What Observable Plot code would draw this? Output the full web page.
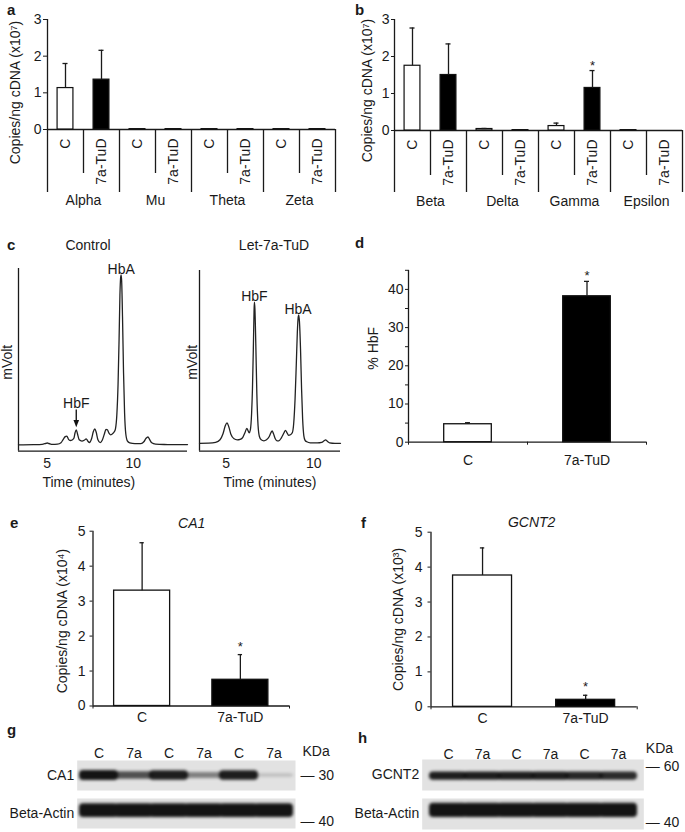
<!DOCTYPE html>
<html><head><meta charset="utf-8">
<script src="https://cdn.jsdelivr.net/npm/d3@7"></script>
<script src="https://cdn.jsdelivr.net/npm/@observablehq/plot@0.6"></script>
<style>
body{margin:0;background:#fff;}
#fig{position:relative;width:685px;height:832px;overflow:hidden;font-family:'Liberation Sans',Arial,Helvetica,sans-serif;color:#1a1a1a;background:#fff;}
.lbl{position:absolute;font-weight:bold;font-size:15px;line-height:1;}
.ttl{position:absolute;font-size:14px;line-height:1;transform:translate(-50%,-50%);white-space:nowrap;}
[aria-label="band"]{filter:blur(1.4px);}
</style></head>
<body><div id="fig"></div>
<script>
// ================= DATA =================
const conditions = ["C", "7a-TuD"];

// Panel a — alpha-like globin genes (copies/ng cDNA, x10^7)
const alphaGenes = ["Alpha", "Mu", "Theta", "Zeta"];
const alphaMeans = [1.13, 1.36, 0.01, 0.01, 0.01, 0.01, 0.01, 0.01];
const alphaErrors = [0.67, 0.80, 0, 0, 0, 0, 0, 0];
const alphaSig = [false, false, false, false, false, false, false, false];

// Panel b — beta-like globin genes
const betaGenes = ["Beta", "Delta", "Gamma", "Epsilon"];
const betaMeans = [1.75, 1.50, 0.04, 0.01, 0.12, 1.15, 0.01, 0];
const betaErrors = [1.02, 0.84, 0.015, 0, 0.08, 0.47, 0, 0];
const betaSig = [false, false, false, false, false, true, false, false];

// Panel c — HPLC chromatograms [time (min), signal (mV, arbitrary)]
const controlTrace = [
  [3.33,0],[4.2,0.2],[4.7,0.5],[4.9,1.3],[5.0,1.8],[5.1,1.3],[5.3,0.4],[5.6,0.6],[5.8,2],[5.95,6],
  [6.05,8.2],[6.14,8.7],[6.24,5.5],[6.34,4.3],[6.45,4.8],[6.55,6.5],[6.62,12],[6.69,15],[6.76,11],[6.86,5],
  [7.02,3.7],[7.15,4.5],[7.27,6],[7.37,3.5],[7.46,2.3],[7.58,6],[7.68,13],[7.77,16],[7.85,12.5],[7.95,5],
  [8.08,2.2],[8.2,4.5],[8.32,10.5],[8.42,15.5],[8.5,15],[8.6,11.5],[8.7,10],[8.8,11],[8.9,13],[8.97,16],
  [9.05,30],[9.12,60],[9.18,105],[9.23,150],[9.27,167],[9.3,170],[9.33,164],[9.38,128],[9.44,72],[9.5,32],
  [9.57,11],[9.66,4],[9.8,2],[10.1,1.2],[10.45,1.2],[10.62,3],[10.75,6.5],[10.86,7.8],[10.96,5.2],[11.08,2],
  [11.3,0.7],[11.8,0.3],[12.5,0.2],[13.16,0.2]
];
const let7aTrace = [
  [3.48,0.5],[4.0,0.7],[4.4,1.5],[4.65,4],[4.82,10],[4.95,18],[5.05,21],[5.15,17],[5.27,9.5],[5.45,5],
  [5.63,4],[5.8,4.5],[5.95,6.5],[6.07,11],[6.18,15.5],[6.25,13],[6.31,11],[6.38,14],[6.45,30],[6.5,55],
  [6.55,95],[6.59,132],[6.61,141.7],[6.64,135],[6.69,100],[6.75,50],[6.82,18],[6.9,7],[7.0,4],[7.15,3],
  [7.3,4],[7.45,7],[7.55,11],[7.62,13],[7.7,10],[7.8,5],[7.9,3],[8.0,3],[8.15,6],[8.3,11],
  [8.38,13.5],[8.47,11],[8.56,8.5],[8.66,9],[8.77,11],[8.85,20],[8.93,45],[9.0,80],[9.06,112],[9.11,127],
  [9.14,129],[9.18,122],[9.24,95],[9.3,55],[9.36,25],[9.43,8],[9.5,3.5],[9.6,2],[9.8,1],[10.2,1],
  [10.45,1.5],[10.58,3],[10.67,4],[10.77,2.5],[10.9,1],[11.2,0.5],[11.52,0.5]
];
const controlPeaks = [
  {name: "HbA", time: 9.3, height: 170, arrow: false},
  {name: "HbF", time: 6.69, height: 15, arrow: true}
];
const let7aPeaks = [
  {name: "HbF", time: 6.61, height: 141.7, arrow: false},
  {name: "HbA", time: 9.1, height: 129, arrow: false}
];

// Panel d — % HbF
const hbfMeans = [4.7, 38.2];
const hbfErrors = [0.4, 3.9];
const hbfSig = [false, true];

// Panel e — CA1 (x10^4)
const ca1Means = [3.3, 0.75];
const ca1Errors = [1.37, 0.72];
const ca1Sig = [false, true];

// Panel f — GCNT2 (x10^3)
const gcnt2Means = [3.76, 0.2];
const gcnt2Errors = [0.79, 0.13];
const gcnt2Sig = [false, true];

// Panels g, h — western blots (relative band intensity per lane)
const laneLabels = ["C", "7a", "C", "7a", "C", "7a"];
const blotGRows = ["CA1", "Beta-Actin"];
const blotHRows = ["GCNT2", "Beta-Actin"];
const ca1BandIntensity = [1.0, 0.68, 0.95, 0.42, 0.95, 0.08];
const actinGBandIntensity = [1, 1, 1, 1, 1, 1];
const gcnt2BandIntensity = [0.95, 0.95, 0.95, 0.95, 0.9, 0.88];
const actinHBandIntensity = [1, 1, 1, 1, 1, 1];
const markerKDaG = [30, 40];
const markerKDaH = [60, 40];

// ================= HELPERS =================
const FONT = "'Liberation Sans', Arial, Helvetica, sans-serif";
const baseStyle = {fontFamily: FONT, fontSize: "14px", color: "#1a1a1a", background: "transparent", overflow: "visible"};
const fig = document.getElementById("fig");
function place(el, left, top) {
  el.style.position = "absolute"; el.style.left = left + "px"; el.style.top = top + "px";
  fig.append(el);
}
function addDiv(cls, text, left, top, extra) {
  const d = document.createElement("div");
  d.className = cls; d.textContent = text;
  d.style.left = left + "px"; d.style.top = top + "px";
  if (extra) Object.assign(d.style, extra);
  fig.append(d);
}
const SW = 1.3;
const intFmt = v => String(v);

function groupedPanel(o) {
  const data = o.means.map((m, i) => ({i, cond: conditions[i % 2], mean: m, err: o.errors[i], sig: o.sig[i]}));
  const n = data.length;
  const dividers = d3.range(n + 1).map(k => ({x: k, len: k % 2 === 0 ? o.longPx : o.shortPx}));
  const withErr = data.filter(d => d.err > 0);
  return Plot.plot({
    width: o.width, height: o.height,
    marginLeft: o.mL, marginRight: o.mR, marginTop: o.mT, marginBottom: o.mB,
    style: baseStyle,
    x: {domain: [0, n], axis: null},
    y: {domain: [0, 3], axis: null},
    marks: [
      Plot.ruleY([0], {strokeWidth: SW}),
      Plot.ruleX([0], {strokeWidth: SW}),
      Plot.ruleX(dividers, {x: "x", y1: 0, y2: d => -d.len / o.pxPerUnit, strokeWidth: SW}),
      Plot.axisY({ticks: [0, 1, 2, 3], tickFormat: intFmt, tickSize: o.tickSize, tickPadding: 2, label: null}),
      Plot.rect(data, {x1: d => d.i + 0.28, x2: d => d.i + 0.72, y1: 0, y2: "mean",
        fill: d => d.cond === "C" ? "white" : "black", stroke: "#111", strokeWidth: 1.2}),
      Plot.ruleX(withErr, {x: d => d.i + 0.5, y1: "mean", y2: d => d.mean + d.err, strokeWidth: SW}),
      Plot.ruleY(withErr, {y: d => d.mean + d.err, x1: d => d.i + 0.43, x2: d => d.i + 0.57, strokeWidth: SW}),
      Plot.text(data.filter(d => d.sig), {x: d => d.i + 0.5, y: d => d.mean + d.err, text: () => "*",
        dy: -4.7, lineAnchor: "middle", fontSize: 13}),
      Plot.axisX({ticks: d3.range(n).map(k => k + 0.5), tickFormat: v => conditions[Math.floor(v) % 2],
        tickRotate: -90, tickSize: 0, tickPadding: 9, label: null}),
      Plot.axisX({ticks: o.groups.map((g, k) => 2 * k + 1), tickFormat: v => o.groups[(v - 1) / 2],
        tickSize: 0, tickPadding: 66, label: null}),
      Plot.text([o.ylabel], {text: d => d, frameAnchor: "left", rotate: -90, dx: o.labelDx, dy: o.labelDy,
        textAnchor: "middle", lineAnchor: "middle"})
    ]
  });
}

function twoBar(o) {
  const data = o.means.map((m, i) => ({i, cond: conditions[i], mean: m, err: o.errors[i], sig: o.sig[i]}));
  return Plot.plot({
    width: o.width, height: o.height,
    marginLeft: o.mL, marginRight: o.mR, marginTop: o.mT, marginBottom: o.mB,
    style: baseStyle,
    x: {domain: [0, 2], axis: null},
    y: {domain: o.yDomain, axis: null},
    marks: [
      Plot.ruleX([0], {strokeWidth: SW}),
      Plot.ruleY([0], {strokeWidth: SW}),
      Plot.axisY({ticks: o.yTicks, tickFormat: o.yFormat, tickSize: 3, tickPadding: o.tickPad, label: null}),
      Plot.axisX({ticks: o.xTicks, tickSize: 3, tickFormat: () => "", label: null}),
      Plot.axisX({ticks: [0.5, 1.5], tickSize: 0, tickPadding: o.xPad, tickFormat: v => conditions[Math.floor(v)], label: null}),
      Plot.rect(data, {x1: d => d.i + 0.5 - o.half, x2: d => d.i + 0.5 + o.half, y1: 0, y2: "mean",
        fill: d => d.i === 0 ? "white" : "black", stroke: "#111", strokeWidth: SW}),
      Plot.ruleX(data, {x: d => d.i + 0.5, y1: "mean", y2: d => d.mean + d.err, strokeWidth: SW}),
      Plot.ruleY(data, {y: d => d.mean + d.err, x1: d => d.i + 0.5 - o.cap, x2: d => d.i + 0.5 + o.cap, strokeWidth: SW}),
      Plot.text(data.filter(d => d.sig), {x: d => d.i + 0.5, y: d => d.mean + d.err, text: () => "*",
        dy: o.starDy, lineAnchor: "middle", fontSize: 13}),
      Plot.text([o.ylabel], {text: d => d, frameAnchor: "left", rotate: -90, dx: o.labelDx, dy: o.labelDy,
        textAnchor: "middle", lineAnchor: "middle"})
    ]
  });
}

const downTriangle = {draw(ctx, size) {
  const r = Math.sqrt(size / Math.PI);
  ctx.moveTo(-r * 0.8, -r); ctx.lineTo(r * 0.8, -r); ctx.lineTo(0, r * 1.1); ctx.closePath();
}};

function chrom(o) {
  const pts = o.trace.map(([t, v]) => ({t, v}));
  const labels = o.peaks.filter(p => !p.arrow);
  const arrows = o.peaks.filter(p => p.arrow);
  return Plot.plot({
    width: o.width, height: o.height,
    marginLeft: o.mL, marginRight: o.mR, marginTop: o.mT, marginBottom: o.mB,
    style: baseStyle,
    x: {domain: o.xDomain, axis: null},
    y: {domain: o.yDomain, axis: null},
    marks: [
      Plot.ruleX([o.xDomain[0]], {strokeWidth: SW}),
      Plot.ruleY([o.yDomain[0]], {strokeWidth: SW}),
      Plot.axisX({ticks: [5, 10], tickFormat: intFmt, tickSize: 0, tickPadding: 7, label: null}),
      Plot.line(pts, {x: "t", y: "v", curve: "monotone-x", stroke: "#222", strokeWidth: 1.3}),
      Plot.text(labels, {x: "time", y: "height", text: "name", lineAnchor: "bottom", dy: -1}),
      Plot.link(arrows, {x1: "time", x2: "time", y1: d => d.height + 20.3, y2: d => d.height + 8, strokeWidth: 1.4}),
      Plot.dot(arrows, {x: "time", y: d => d.height + 6.4, r: 3.5, symbol: downTriangle, fill: "#111", stroke: "none"}),
      Plot.text(arrows, {x: "time", y: d => d.height + 20.3, text: "name", lineAnchor: "bottom", dy: -2}),
      Plot.text(["Time (minutes)"], {text: d => d, frameAnchor: "bottom", dx: o.timeDx, dy: 31,
        textAnchor: "middle", lineAnchor: "middle"}),
      Plot.text(["mVolt"], {text: d => d, frameAnchor: "left", rotate: -90, dx: o.mvDx, dy: o.mvDy,
        textAnchor: "middle", lineAnchor: "middle"})
    ]
  });
}

function blot(o) {
  const bands = [];
  o.rows.forEach((row, r) => {
    o.intensities[r].forEach((v, k) => bands.push({row, lane: k, v, thick: o.thick[r](v), off: o.off[r]}));
  });
  const mk = o.rows.map((row, r) => ({row, label: "\u2014 " + o.markers[r]}));
  return Plot.plot({
    width: o.width, height: o.height,
    marginLeft: o.mL, marginRight: o.mR, marginTop: o.mT, marginBottom: o.mB,
    style: baseStyle,
    x: {type: "band", domain: d3.range(laneLabels.length), paddingInner: 0, paddingOuter: o.padOuter, axis: null},
    y: {domain: o.yDomain, axis: null},
    fy: {domain: o.rows, padding: o.fyPad, axis: null},
    marks: [
      Plot.frame({fill: "#e2e2e2", stroke: "none"}),
      Plot.barY(bands, {x: "lane", fy: "row", y1: d => d.off - d.thick / 2, y2: d => d.off + d.thick / 2,
        fill: "#141414", fillOpacity: d => 0.1 + 0.9 * d.v, rx: 4, insetLeft: -2, insetRight: -2,
        ariaLabel: "band", imageFilter: "blur(1.4px)"}),
      Plot.axisX({anchor: "top", tickSize: 0, tickPadding: o.lanePad, tickFormat: k => laneLabels[k], label: null}),
      Plot.axisFy({anchor: "left", tickSize: 0, tickPadding: 3, label: null}),
      Plot.text([{row: o.rows[0]}], {fy: "row", text: () => "KDa", frameAnchor: "top-right", textAnchor: "start",
        lineAnchor: "middle", dx: o.kdaDx, dy: o.kdaDy}),
      Plot.text(mk.slice(0, 1), {fy: "row", text: "label", frameAnchor: o.topMarkerAnchor, textAnchor: "start",
        lineAnchor: "middle", dx: o.mkDx, dy: o.topMarkerDy}),
      Plot.text(mk.slice(1), {fy: "row", text: "label", frameAnchor: "bottom-right", textAnchor: "start",
        lineAnchor: "middle", dx: o.mkDx, dy: -6.6})
    ]
  });
}

// ================= PANELS =================
place(groupedPanel({
  groups: alphaGenes, means: alphaMeans, errors: alphaErrors, sig: alphaSig,
  ylabel: "Copies/ng cDNA (x10\u2077)",
  width: 345, height: 215, mL: 47, mR: 10, mT: 19, mB: 86,
  pxPerUnit: 110 / 3, longPx: 63, shortPx: 44, tickSize: 4, labelDx: -32, labelDy: 18
}), 0, 0);

place(groupedPanel({
  groups: betaGenes, means: betaMeans, errors: betaErrors, sig: betaSig,
  ylabel: "Copies/ng cDNA (x10\u2077)",
  width: 340, height: 215, mL: 49, mR: 3, mT: 19, mB: 85,
  pxPerUnit: 37, longPx: 62, shortPx: 45, tickSize: 3, labelDx: -26.5, labelDy: 15.5
}), 345, 0);

place(chrom({
  trace: controlTrace, peaks: controlPeaks,
  width: 195, height: 232, mL: 18, mR: 8, mT: 8, mB: 41.3,
  xDomain: [3.33, 13.16], yDomain: [-6.4, 176.3], timeDx: -14.2, mvDx: -11.3, mvDy: 2.4
}), 0, 260);

place(chrom({
  trace: let7aTrace, peaks: let7aPeaks,
  width: 165, height: 232, mL: 19, mR: 5, mT: 10, mB: 41.3,
  xDomain: [3.48, 11.52], yDomain: [-7.4, 173.3], timeDx: 0, mvDx: -7.3, mvDy: 1.5
}), 180, 260);

place(twoBar({
  means: hbfMeans, errors: hbfErrors, sig: hbfSig, ylabel: "% HbF",
  width: 340, height: 220, mL: 63, mR: 39, mT: 7.8, mB: 40.3,
  yDomain: [0, 45], yTicks: d3.range(0, 46, 5), yFormat: v => v % 10 === 0 ? String(v) : "", tickPad: 2,
  xTicks: [0, 1, 2], xPad: 13.3, half: 0.2, cap: 0.021, starDy: -5.4, labelDx: -35, labelDy: -8
}), 345, 262);

place(twoBar({
  means: ca1Means, errors: ca1Errors, sig: ca1Sig, ylabel: "Copies/ng cDNA (x10\u2074)",
  width: 345, height: 235, mL: 92.5, mR: 56, mT: 25.7, mB: 34.5,
  yDomain: [0, 5], yTicks: [0, 1, 2, 3, 4, 5], yFormat: intFmt, tickPad: 4.5,
  xTicks: [0, 2], xPad: 6.5, half: 0.285, cap: 0.022, starDy: -8, labelDx: -30.8, labelDy: 2.5
}), 0, 505);

place(twoBar({
  means: gcnt2Means, errors: gcnt2Errors, sig: gcnt2Sig, ylabel: "Copies/ng cDNA (x10\u00b3)",
  width: 340, height: 235, mL: 85.5, mR: 48.3, mT: 26.7, mB: 33.7,
  yDomain: [0, 5], yTicks: [0, 1, 2, 3, 4, 5], yFormat: intFmt, tickPad: 5.5,
  xTicks: [0, 2], xPad: 6.5, half: 0.286, cap: 0.021, starDy: -8.7, labelDx: -32.2, labelDy: 0
}), 345, 505);

place(blot({
  rows: blotGRows, intensities: [ca1BandIntensity, actinGBandIntensity], markers: markerKDaG,
  thick: [v => 3 + 7 * v, () => 14], off: [0, 3],
  width: 345, height: 102, mL: 76.7, mR: 50, mT: 29.3, mB: 3.7,
  yDomain: [-15.3, 15.3], fyPad: 0.2, padOuter: 0.04, lanePad: 3,
  kdaDx: 7, kdaDy: -9.3, mkDx: 5, topMarkerAnchor: "right", topMarkerDy: 0
}), 0, 730);

place(blot({
  rows: blotHRows, intensities: [gcnt2BandIntensity, actinHBandIntensity], markers: markerKDaH,
  thick: [() => 8.5, () => 15], off: [-1.2, 3.8],
  width: 340, height: 102, mL: 76.7, mR: 41.7, mT: 27.7, mB: 2,
  yDomain: [-16.15, 16.15], fyPad: 0.1925, padOuter: 0.2, lanePad: 1,
  kdaDx: 2, kdaDy: -10.5, mkDx: 2, topMarkerAnchor: "top-right", topMarkerDy: 7
}), 345, 730);

// ================= PANEL LETTERS & TITLES =================
addDiv("lbl", "a", 7, 2.3);
addDiv("lbl", "b", 355, 2.3);
addDiv("lbl", "c", 7, 237.3);
addDiv("lbl", "d", 355, 235.3);
addDiv("lbl", "e", 10, 515.3);
addDiv("lbl", "f", 361, 515.3);
addDiv("lbl", "g", 7, 722.3);
addDiv("lbl", "h", 358, 730.3);
addDiv("ttl", "Control", 88, 245);
addDiv("ttl", "Let-7a-TuD", 274, 245);
addDiv("ttl", "CA1", 191.7, 523, {fontStyle: "italic"});
addDiv("ttl", "GCNT2", 531.7, 522, {fontStyle: "italic"});
</script>
</body></html>
